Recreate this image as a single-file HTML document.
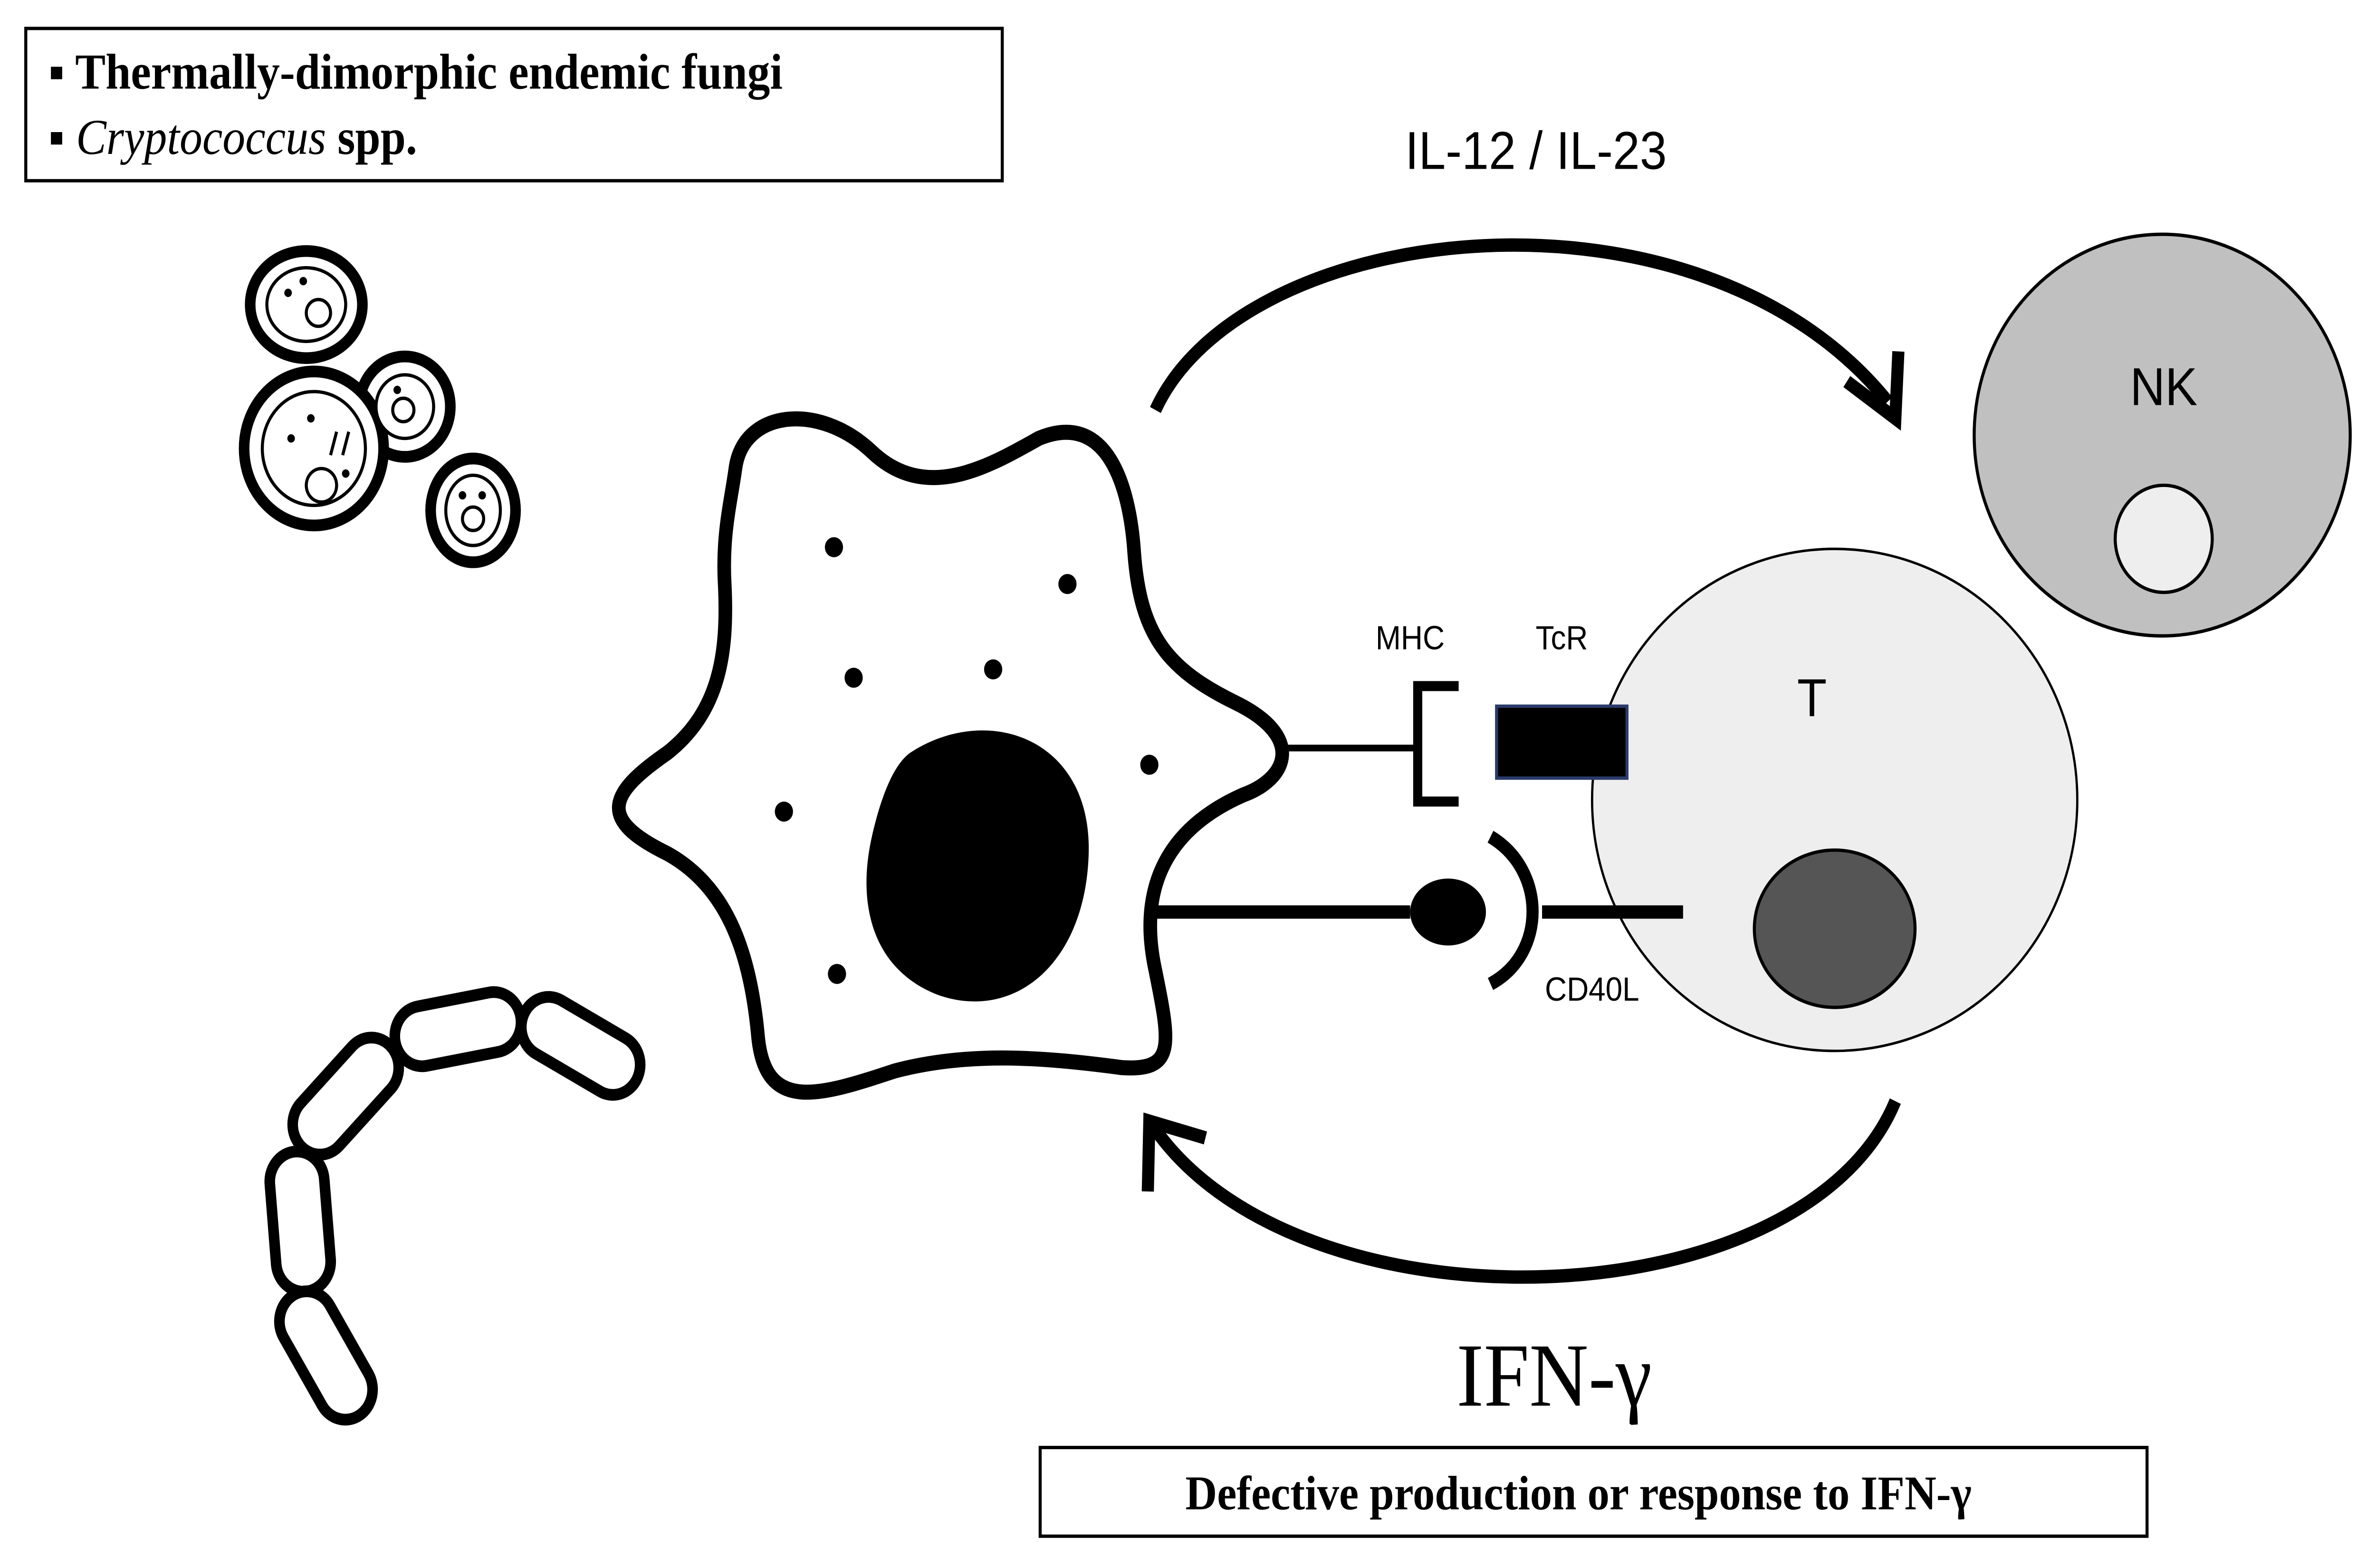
<!DOCTYPE html>
<html><head><meta charset="utf-8"><style>html,body{margin:0;padding:0;background:#fff;overflow:hidden;width:100%;height:100%}svg{display:block;position:absolute;left:0;top:0;width:100vw;height:100vh}</style></head>
<body>
<svg viewBox="0 0 1567 937" preserveAspectRatio="none" xmlns="http://www.w3.org/2000/svg">
<rect width="1567" height="937" fill="#fff"/>
<rect x="17" y="17" width="644" height="91" fill="#fff" stroke="#000" stroke-width="2"/>
<text x="32" y="53" font-family="Liberation Serif, serif" font-size="30" font-weight="bold">▪ Thermally-dimorphic endemic fungi</text>
<text x="32" y="92" font-family="Liberation Serif, serif" font-size="30" font-weight="bold">▪ <tspan font-style="italic" font-weight="normal">Cryptococcus</tspan> spp.</text>
<text x="1013" y="101" font-family="Liberation Sans, sans-serif" font-size="32" text-anchor="middle">IL-12 / IL-23</text>
<path d="M762,245 C820,130 1120,100 1245,240" fill="none" stroke="#000" stroke-width="8"/>
<path d="M1218,228 L1250,250 L1252,210" fill="none" stroke="#000" stroke-width="8"/>
<path d="M1250,658 C1190,790 860,800 762,675" fill="none" stroke="#000" stroke-width="8"/>
<path d="M757,712 L758,670 L795,680" fill="none" stroke="#000" stroke-width="8"/>
<ellipse cx="1426" cy="260" rx="124" ry="120" fill="#c0c0c0" stroke="#000" stroke-width="2"/>
<circle cx="1427" cy="322" r="32" fill="#eeeeee" stroke="#000" stroke-width="2"/>
<text x="1427" y="242" font-family="Liberation Sans, sans-serif" font-size="32" text-anchor="middle">NK</text>
<ellipse cx="1210" cy="478" rx="160" ry="150" fill="#eeeeee" stroke="#000" stroke-width="1.5"/>
<ellipse cx="1210" cy="555" rx="53" ry="47" fill="#555" stroke="#000" stroke-width="2"/>
<text x="1195" y="428" font-family="Liberation Sans, sans-serif" font-size="32" text-anchor="middle">T</text>
<rect x="987" y="422" width="86" height="43" fill="#000" stroke="#2a3a6a" stroke-width="2"/>
<text x="930" y="388" font-family="Liberation Sans, sans-serif" font-size="20" text-anchor="middle">MHC</text>
<text x="1030" y="388" font-family="Liberation Sans, sans-serif" font-size="20" text-anchor="middle">TcR</text>
<path d="M962,410 L935,410 L935,479 L962,479" fill="none" stroke="#000" stroke-width="6"/>
<line x1="835" y1="447" x2="935" y2="447" stroke="#000" stroke-width="4"/>
<line x1="755" y1="545" x2="930" y2="545" stroke="#000" stroke-width="8"/>
<ellipse cx="955" cy="545" rx="25" ry="20" fill="#000"/>
<path d="M983,500 C1020,520 1020,570 983,588" fill="none" stroke="#000" stroke-width="8"/>
<line x1="1017" y1="545" x2="1110" y2="545" stroke="#000" stroke-width="8"/>
<text x="1050" y="598" font-family="Liberation Sans, sans-serif" font-size="20" text-anchor="middle">CD40L</text>
<text x="1025" y="840" font-family="Liberation Serif, serif" font-size="54" text-anchor="middle">IFN-γ</text>
<rect x="686" y="865" width="730" height="53" fill="#fff" stroke="#000" stroke-width="2"/>
<text x="1041" y="902" font-family="Liberation Serif, serif" font-size="29" font-weight="bold" text-anchor="middle">Defective production or response to IFN-γ</text>
<path d="M485,280 C490,245 540,240 575,270 C610,300 650,280 685,262 C730,245 745,290 748,330 C752,380 770,400 815,420 C860,440 850,465 820,475 C770,495 750,530 762,580 C772,625 775,640 740,638 C690,632 640,628 590,640 C540,655 505,665 500,620 C495,570 480,530 440,510 C395,490 400,475 440,450 C475,425 480,390 478,350 C476,320 482,300 485,280 Z" fill="#fff" stroke="#000" stroke-width="9"/>
<path d="M600,450 C650,420 720,440 718,510 C716,575 670,610 620,595 C575,580 565,540 575,500 C580,480 588,458 600,450 Z" fill="#000"/>
<g fill="#000"><circle cx="550" cy="327" r="6"/><circle cx="704" cy="349" r="6"/><circle cx="563" cy="405" r="6"/><circle cx="655" cy="400" r="6"/><circle cx="758" cy="457" r="6"/><circle cx="517" cy="485" r="6"/><circle cx="552" cy="582" r="6"/></g>
<g fill="#fff" stroke="#000">
<ellipse cx="202" cy="182" rx="37" ry="32" stroke-width="7"/>
<ellipse cx="202" cy="182" rx="26" ry="22" stroke-width="2"/>
<circle cx="267" cy="243" r="30" stroke-width="7"/>
<circle cx="207" cy="268" r="46" stroke-width="7"/>
<circle cx="207" cy="268" r="34" stroke-width="2"/>
<circle cx="267" cy="243" r="19" stroke-width="2"/>
<ellipse cx="312" cy="305" rx="28" ry="31" stroke-width="7"/>
<ellipse cx="312" cy="305" rx="18" ry="21" stroke-width="2"/>
<circle cx="210" cy="187" r="8" stroke-width="2"/>
<circle cx="266" cy="245" r="7" stroke-width="2"/>
<circle cx="212" cy="290" r="10" stroke-width="2"/>
<circle cx="312" cy="310" r="7" stroke-width="2"/>
</g>
<g fill="#000"><circle cx="190" cy="175" r="2.5"/><circle cx="200" cy="168" r="2.5"/><circle cx="205" cy="250" r="2.5"/><circle cx="192" cy="262" r="2.5"/><circle cx="228" cy="283" r="2.5"/><circle cx="262" cy="233" r="2.5"/><circle cx="305" cy="296" r="2.5"/><circle cx="318" cy="296" r="2.5"/></g>
<path d="M222,258 L218,272 M230,258 L226,272" stroke="#000" stroke-width="2"/>
<g fill="#fff" stroke="#000" stroke-width="7">
<rect x="-42" y="-18" width="84" height="36" rx="18" transform="translate(383,625) rotate(28)"/>
<rect x="-42" y="-18" width="84" height="36" rx="18" transform="translate(302,615) rotate(-10)"/>
<rect x="-42" y="-18" width="84" height="36" rx="18" transform="translate(228,655) rotate(-45)"/>
<rect x="-42" y="-18" width="84" height="36" rx="18" transform="translate(198,730) rotate(85)"/>
<rect x="-42" y="-18" width="84" height="36" rx="18" transform="translate(215,810) rotate(58)"/>
</g>
</svg>
</body></html>
